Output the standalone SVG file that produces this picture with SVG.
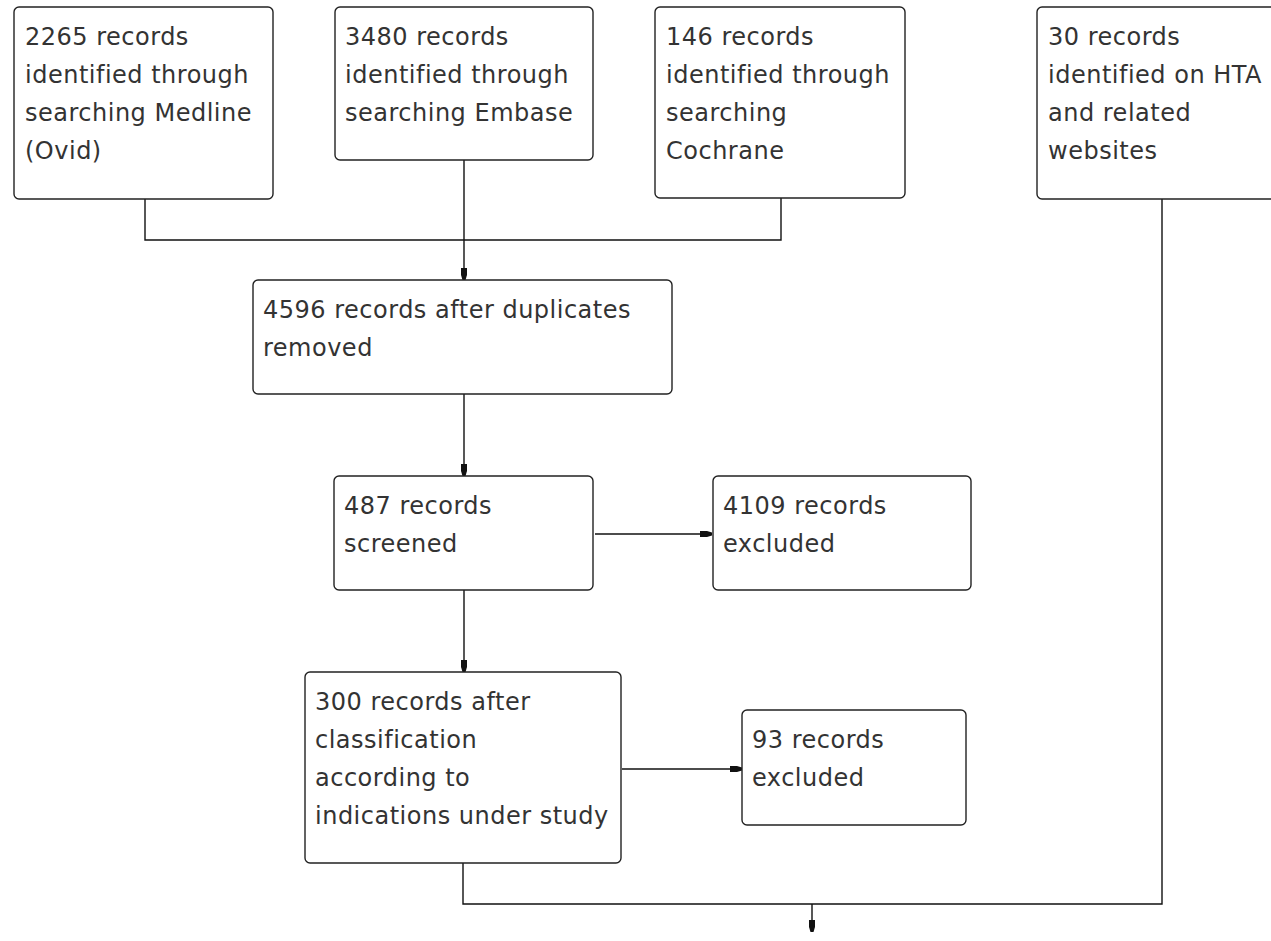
<svg xmlns="http://www.w3.org/2000/svg" width="1271" height="941" viewBox="0 0 1271 941">
<style>
.box{fill:#fff;stroke:#222;stroke-width:1.4}
.lbl{font-family:"DejaVu Sans",Verdana,sans-serif;font-size:24px;letter-spacing:0.5px;fill:#333}
.con{fill:none;stroke:#111;stroke-width:1.4}
</style>
<defs>
<marker id="ah" viewBox="0 0 12 7" refX="12" refY="3.5" markerWidth="12" markerHeight="7" markerUnits="userSpaceOnUse" orient="auto">
<path d="M0,0.5 L7,0.5 L12,2 L12,5 L7,6.5 L0,6.5 Z" fill="#111"/>
</marker>
</defs>
<rect width="1271" height="941" fill="#fff"/>
<g id="connectors">
<path class="con" d="M145,199 V240 H781 V198"/>
<path class="con" d="M464,160 V280" marker-end="url(#ah)"/>
<path class="con" d="M464,394 V476" marker-end="url(#ah)"/>
<path class="con" d="M595,534 H712" marker-end="url(#ah)"/>
<path class="con" d="M464,590 V672" marker-end="url(#ah)"/>
<path class="con" d="M622,769 H742" marker-end="url(#ah)"/>
<path class="con" d="M463,863 V904 H1162 V199"/>
<path class="con" d="M812,904 V932" marker-end="url(#ah)"/>
</g>
<g id="medline">
<rect class="box" x="14" y="7" width="259" height="192" rx="5"/>
<text class="lbl"><tspan x="25" y="45">2265 records</tspan><tspan x="25" y="83">identified through</tspan><tspan x="25" y="121">searching Medline</tspan><tspan x="25" y="159">(Ovid)</tspan></text>
</g>
<g id="embase">
<rect class="box" x="335" y="7" width="258" height="153" rx="5"/>
<text class="lbl"><tspan x="345" y="45">3480 records</tspan><tspan x="345" y="83">identified through</tspan><tspan x="345" y="121">searching Embase</tspan></text>
</g>
<g id="cochrane">
<rect class="box" x="655" y="7" width="250" height="191" rx="5"/>
<text class="lbl"><tspan x="666" y="45">146 records</tspan><tspan x="666" y="83">identified through</tspan><tspan x="666" y="121">searching</tspan><tspan x="666" y="159">Cochrane</tspan></text>
</g>
<g id="hta">
<rect class="box" x="1037" y="7" width="250" height="192" rx="5"/>
<text class="lbl"><tspan x="1048" y="45">30 records</tspan><tspan x="1048" y="83">identified on HTA</tspan><tspan x="1048" y="121">and related</tspan><tspan x="1048" y="159">websites</tspan></text>
</g>
<g id="dedup">
<rect class="box" x="253" y="280" width="419" height="114" rx="5"/>
<text class="lbl"><tspan x="263" y="318">4596 records after duplicates</tspan><tspan x="263" y="356">removed</tspan></text>
</g>
<g id="screened">
<rect class="box" x="334" y="476" width="259" height="114" rx="5"/>
<text class="lbl"><tspan x="344" y="514">487 records</tspan><tspan x="344" y="552">screened</tspan></text>
</g>
<g id="excluded1">
<rect class="box" x="713" y="476" width="258" height="114" rx="5"/>
<text class="lbl"><tspan x="723" y="514">4109 records</tspan><tspan x="723" y="552">excluded</tspan></text>
</g>
<g id="classified">
<rect class="box" x="305" y="672" width="316" height="191" rx="5"/>
<text class="lbl"><tspan x="315" y="710">300 records after</tspan><tspan x="315" y="748">classification</tspan><tspan x="315" y="786">according to</tspan><tspan x="315" y="824">indications under study</tspan></text>
</g>
<g id="excluded2">
<rect class="box" x="742" y="710" width="224" height="115" rx="5"/>
<text class="lbl"><tspan x="752" y="748">93 records</tspan><tspan x="752" y="786">excluded</tspan></text>
</g>
</svg>
